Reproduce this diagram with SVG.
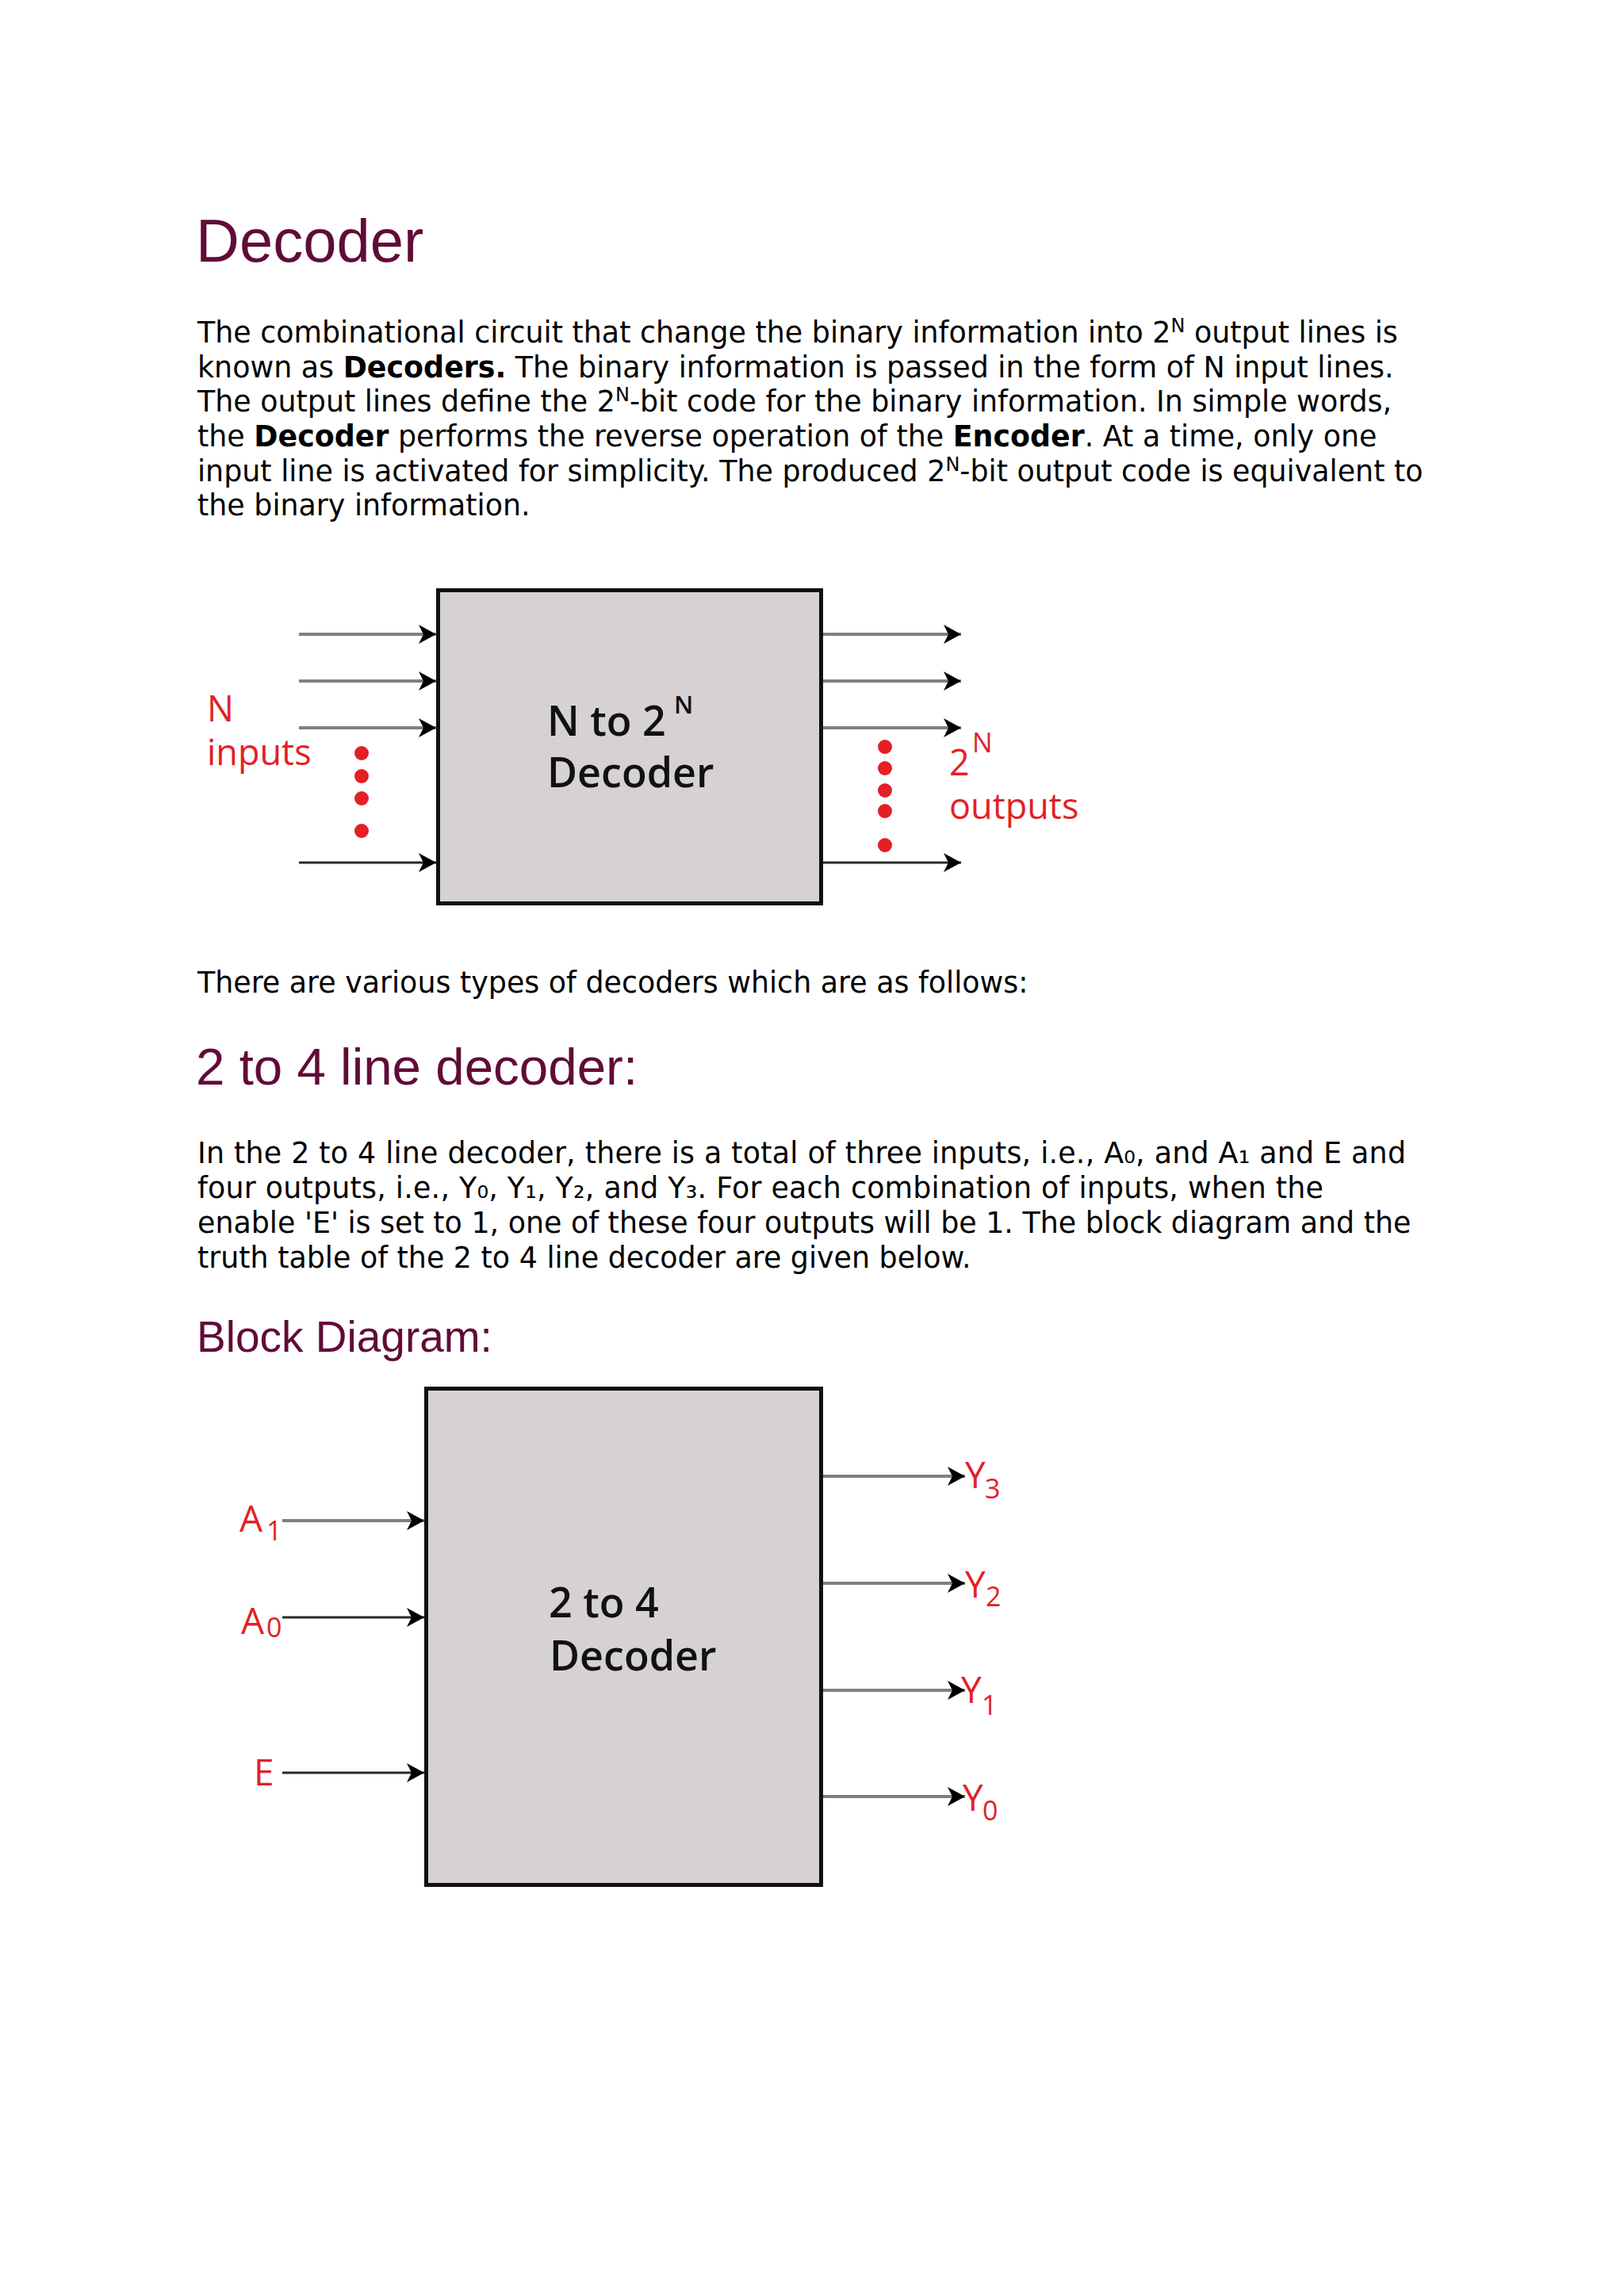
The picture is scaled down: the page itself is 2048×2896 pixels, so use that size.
<svg xmlns="http://www.w3.org/2000/svg" width="2048" height="2896" viewBox="0 0 2048 2896">
<style>
.h1{font-family:"Liberation Sans",Arial,sans-serif;fill:#610B38;font-size:76px}
.h2{font-family:"Liberation Sans",Arial,sans-serif;fill:#610B38;font-size:65.5px}
.h3{font-family:"Liberation Sans",Arial,sans-serif;fill:#610B38;font-size:55px}
.p{font-family:"DejaVu Sans",Verdana,sans-serif;fill:#000;font-size:36.4px}
.b{font-weight:bold}
.sup{font-size:24px}
.lbl{font-family:"Open Sans","Noto Sans",sans-serif;fill:#e41f26;font-size:45px;font-weight:500}
.sub{font-size:34px}
.box{fill:#d6d2d3;stroke:#111;stroke-width:5}
.bt{font-family:"Open Sans","Noto Sans",sans-serif;fill:#111;font-size:52px;font-weight:600}
.w1{stroke:#7f7f7f;stroke-width:4;fill:none}
.w2{stroke:#2a2a2a;stroke-width:3;fill:none}
.dot{fill:#e41f26}
</style>
<defs>
<marker id="ah" markerUnits="userSpaceOnUse" markerWidth="24" markerHeight="26" viewBox="0 0 24 26" refX="22" refY="13" orient="auto">
<path d="M0,1 L22,13 L0,25 L6,13 z" fill="#000"/>
</marker>
</defs>
<rect width="2048" height="2896" fill="#fff"/>

<g id="text-top">
<text class="h1" x="247" y="330">Decoder</text>
<text class="p" x="249" y="432">The combinational circuit that change the binary information into 2<tspan class="sup" dy="-13">N</tspan><tspan dy="13"> output lines is</tspan></text>
<text class="p" x="249" y="475.5">known as <tspan class="b">Decoders.</tspan> The binary information is passed in the form of N input lines.</text>
<text class="p" x="249" y="519">The output lines define the 2<tspan class="sup" dy="-13">N</tspan><tspan dy="13">-bit code for the binary information. In simple words,</tspan></text>
<text class="p" x="249" y="563">the <tspan class="b">Decoder</tspan> performs the reverse operation of the <tspan class="b">Encoder</tspan>. At a time, only one</text>
<text class="p" x="249" y="607">input line is activated for simplicity. The produced 2<tspan class="sup" dy="-13">N</tspan><tspan dy="13">-bit output code is equivalent to</tspan></text>
<text class="p" x="249" y="650">the binary information.</text>
</g>

<g id="diagram1">
<g id="d1-box">
<rect class="box" x="552.5" y="744.5" width="483" height="395"/>
<text class="bt" x="690" y="928">N to 2</text>
<text class="bt" x="850" y="900" style="font-size:31px">N</text>
<text class="bt" x="690" y="993">Decoder</text>
</g>
<g id="d1-connectors">
<line class="w1" x1="377" y1="800" x2="550" y2="800" marker-end="url(#ah)"/>
<line class="w1" x1="377" y1="859" x2="550" y2="859" marker-end="url(#ah)"/>
<line class="w1" x1="377" y1="918" x2="550" y2="918" marker-end="url(#ah)"/>
<line class="w2" x1="377" y1="1088" x2="550" y2="1088" marker-end="url(#ah)"/>
<line class="w1" x1="1038" y1="800" x2="1212" y2="800" marker-end="url(#ah)"/>
<line class="w1" x1="1038" y1="859" x2="1212" y2="859" marker-end="url(#ah)"/>
<line class="w1" x1="1038" y1="918" x2="1212" y2="918" marker-end="url(#ah)"/>
<line class="w2" x1="1038" y1="1088" x2="1212" y2="1088" marker-end="url(#ah)"/>
</g>
<g id="d1-inputs-label">
<text class="lbl" x="261" y="910">N</text>
<text class="lbl" x="261" y="965">inputs</text>
<circle class="dot" cx="456" cy="950" r="9"/>
<circle class="dot" cx="456" cy="979" r="9"/>
<circle class="dot" cx="456" cy="1007" r="9"/>
<circle class="dot" cx="456" cy="1048" r="9"/>
</g>
<g id="d1-outputs-label">
<text class="lbl" x="1197" y="978">2</text>
<text class="lbl" x="1226" y="949" style="font-size:34px">N</text>
<text class="lbl" x="1197" y="1033">outputs</text>
<circle class="dot" cx="1116" cy="942" r="9"/>
<circle class="dot" cx="1116" cy="969" r="9"/>
<circle class="dot" cx="1116" cy="997" r="9"/>
<circle class="dot" cx="1116" cy="1023" r="9"/>
<circle class="dot" cx="1116" cy="1066" r="9"/>
</g>
</g>

<g id="text-middle">
<text class="p" x="249" y="1252">There are various types of decoders which are as follows:</text>
<text class="h2" x="247" y="1368">2 to 4 line decoder:</text>
<text class="p" x="249" y="1467" textLength="1524" lengthAdjust="spacing">In the 2 to 4 line decoder, there is a total of three inputs, i.e., A₀, and A₁ and E and</text>
<text class="p" x="249" y="1511" textLength="1420" lengthAdjust="spacing">four outputs, i.e., Y₀, Y₁, Y₂, and Y₃. For each combination of inputs, when the</text>
<text class="p" x="249" y="1555">enable 'E' is set to 1, one of these four outputs will be 1. The block diagram and the</text>
<text class="p" x="249" y="1599">truth table of the 2 to 4 line decoder are given below.</text>
<text class="h3" x="248" y="1705">Block Diagram:</text>
</g>

<g id="diagram2">
<g id="d2-box">
<rect class="box" x="537.5" y="1751.5" width="498" height="626"/>
<text class="bt" x="692" y="2040">2 to 4</text>
<text class="bt" x="693" y="2107">Decoder</text>
</g>
<g id="d2-connectors">
<line class="w1" x1="356" y1="1918" x2="535" y2="1918" marker-end="url(#ah)"/>
<line class="w2" x1="356" y1="2040" x2="535" y2="2040" marker-end="url(#ah)"/>
<line class="w2" x1="356" y1="2236" x2="535" y2="2236" marker-end="url(#ah)"/>
<line class="w1" x1="1038" y1="1862" x2="1217" y2="1862" marker-end="url(#ah)"/>
<line class="w1" x1="1038" y1="1997" x2="1217" y2="1997" marker-end="url(#ah)"/>
<line class="w1" x1="1038" y1="2132" x2="1217" y2="2132" marker-end="url(#ah)"/>
<line class="w1" x1="1038" y1="2266" x2="1217" y2="2266" marker-end="url(#ah)"/>
</g>
<g id="d2-in-A1"><text class="lbl" x="302" y="1932" style="font-size:46px">A</text><text class="lbl sub" x="336" y="1943">1</text></g>
<g id="d2-in-A0"><text class="lbl" x="304" y="2061" style="font-size:46px">A</text><text class="lbl sub" x="336" y="2065">0</text></g>
<g id="d2-in-E"><text class="lbl" x="320" y="2252" style="font-size:46px">E</text></g>
<g id="d2-out-Y3"><text class="lbl" x="1217" y="1877" style="font-size:46px">Y</text><text class="lbl sub" x="1242" y="1890">3</text></g>
<g id="d2-out-Y2"><text class="lbl" x="1217" y="2015" style="font-size:46px">Y</text><text class="lbl sub" x="1243" y="2026">2</text></g>
<g id="d2-out-Y1"><text class="lbl" x="1212" y="2148" style="font-size:46px">Y</text><text class="lbl sub" x="1238" y="2163">1</text></g>
<g id="d2-out-Y0"><text class="lbl" x="1214" y="2284" style="font-size:46px">Y</text><text class="lbl sub" x="1239" y="2296">0</text></g>
</g>
</svg>
